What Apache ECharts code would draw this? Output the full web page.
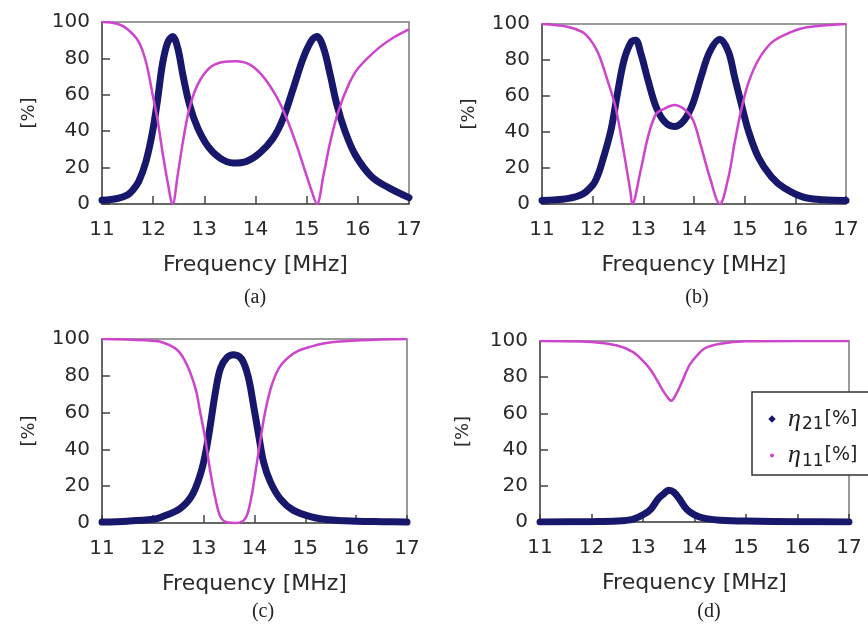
<!DOCTYPE html>
<html>
<head>
<meta charset="utf-8">
<script src="https://cdn.jsdelivr.net/npm/echarts@6/dist/echarts.min.js"></script>
<style>
html,body{margin:0;padding:0;background:#fff;}
#chart{width:868px;height:635px;}
</style>
</head>
<body>
<div id="chart"></div>
<script>
// ---- tick labels ----
const xTicks = [11, 12, 13, 14, 15, 16, 17];
const yTicks = [0, 20, 40, 60, 80, 100];
const panelLabels = ['(a)', '(b)', '(c)', '(d)'];
const seriesNames = ['η21', 'η11'];

// ---- panel (a) ----
const aFreq21 = [11.0, 11.3, 11.5, 11.6, 11.72, 11.86, 11.99, 12.09, 12.18, 12.28, 12.38, 12.48, 12.58, 12.71, 12.87, 13.07, 13.3, 13.56, 13.82, 14.08, 14.34, 14.54, 14.74, 14.93, 15.1, 15.2, 15.33, 15.46, 15.59, 15.75, 15.95, 16.27, 16.6, 17.0];
const aEta21  = [2, 3, 5, 7.5, 12.5, 23.4, 40, 58, 76.6, 88.5, 92, 85.7, 71, 54.6, 41.8, 31.7, 25.3, 22.5, 23.4, 28, 36, 47, 63.7, 80, 90, 92, 85.7, 71, 54.6, 40, 27, 15, 9, 3.5];
const aFreq11 = [11.0, 11.3, 11.5, 11.72, 11.86, 11.99, 12.09, 12.18, 12.28, 12.38, 12.48, 12.58, 12.71, 12.87, 13.1, 13.36, 13.62, 13.89, 14.15, 14.41, 14.61, 14.8, 14.97, 15.1, 15.2, 15.33, 15.46, 15.62, 15.82, 16.01, 16.4, 16.73, 17.0];
const aEta11  = [100, 99, 96, 89, 78, 60, 45.5, 29, 12.5, 0, 16, 34, 52.7, 65.6, 74.7, 78, 78.5, 76.6, 70, 59, 47, 32.6, 18, 7, 0, 16, 34, 51, 65.6, 74.7, 85.5, 92, 96];

// ---- panel (b) ----
const bFreq21 = [11.0, 11.5, 11.8, 12.0, 12.08, 12.16, 12.36, 12.49, 12.62, 12.76, 12.85, 12.95, 13.09, 13.25, 13.42, 13.61, 13.81, 13.98, 14.14, 14.31, 14.51, 14.68, 14.8, 14.93, 15.07, 15.27, 15.53, 15.79, 16.2, 17.0];
const bEta21  = [2, 3, 5.5, 10.5, 14.5, 20.7, 41, 61.5, 80, 90, 91, 83.7, 69, 54, 45.7, 43, 46.7, 56, 70.7, 84.6, 91.5, 84.6, 70.7, 56, 41, 26, 15, 8.7, 3.5, 2];
const bFreq11 = [11.0, 11.5, 11.8, 11.96, 12.07, 12.15, 12.29, 12.45, 12.62, 12.75, 12.78, 12.95, 13.09, 13.25, 13.42, 13.61, 13.81, 13.98, 14.14, 14.31, 14.51, 14.68, 14.8, 14.93, 15.07, 15.27, 15.53, 15.79, 16.2, 17.0];
const bEta11  = [100, 98.5, 95.5, 91, 86, 81, 69, 54, 28, 6, 0, 19, 37, 50, 53, 55, 52.6, 46.7, 32, 15, 0, 15, 33.7, 52, 67, 80, 89.6, 94, 98, 100];

// ---- panel (c) ----
const cFreq21 = [11.0, 11.5, 12.0, 12.15, 12.54, 12.77, 12.93, 13.03, 13.13, 13.23, 13.33, 13.46, 13.59, 13.75, 13.88, 13.98, 14.08, 14.18, 14.31, 14.5, 14.76, 15.12, 15.45, 16.0, 16.5, 17.0];
const cEta21  = [0.5, 1, 2, 3, 8, 15, 26, 37, 53, 71, 84, 90, 91.5, 89, 79, 64, 48, 33, 22.5, 13.4, 7, 3.3, 1.8, 1, 0.7, 0.5];
const cFreq11 = [11.0, 11.85, 12.15, 12.48, 12.67, 12.84, 12.93, 13.03, 13.13, 13.23, 13.33, 13.46, 13.65, 13.82, 13.92, 14.01, 14.11, 14.21, 14.34, 14.5, 14.76, 15.0, 15.45, 16.1, 17.0];
const cEta11  = [100, 99.3, 98.5, 94, 86, 73, 60.5, 46, 28, 13.4, 3.4, 0.4, 0, 2.5, 11.6, 26, 44, 60.5, 75, 85, 92, 95, 98, 99.3, 100];

// ---- panel (d) ----
const dFreq21 = [11.0, 12.0, 12.5, 12.8, 13.0, 13.15, 13.3, 13.4, 13.5, 13.6, 13.7, 13.85, 14.0, 14.2, 14.5, 15.0, 16.0, 17.0];
const dEta21  = [0, 0.2, 0.5, 1.5, 4, 7, 13, 15.5, 17.5, 16.5, 13, 7, 4, 2, 1, 0.5, 0.2, 0];
const dFreq11 = [11.0, 12.0, 12.5, 12.8, 13.0, 13.15, 13.3, 13.4, 13.5, 13.55, 13.65, 13.75, 13.9, 14.05, 14.2, 14.5, 15.0, 16.0, 17.0];
const dEta11  = [100, 99.5, 97.5, 94, 89, 84, 77, 72, 68, 67, 71, 77, 86.5, 92, 96, 98.5, 99.8, 100, 100];

const panels = [
  {f21: aFreq21, e21: aEta21, f11: aFreq11, e11: aEta11},
  {f21: bFreq21, e21: bEta21, f11: bFreq11, e11: bEta11},
  {f21: cFreq21, e21: cEta21, f11: cFreq11, e11: cEta11},
  {f21: dFreq21, e21: dEta21, f11: dFreq11, e11: dEta11}
];

// layout (pixels)
const grids = [
  {left: 102, top: 22, width: 307, height: 182},
  {left: 542, top: 24, width: 304, height: 180},
  {left: 102, top: 339, width: 305, height: 184},
  {left: 540, top: 341, width: 309, height: 181}
];
const labelPos = [[255, 298], [697, 298], [263, 612], [709, 612]];

const NAVY = '#17176c';
const MAG = '#cc45cc';
const TXT = '#2a2a2a';
const sansFont = 'DejaVu Sans';

const pairs = (xs, ys) => xs.map((x, i) => [x, ys[i]]);

const option = {
  animation: false,
  backgroundColor: '#ffffff',
  grid: grids.map(g => Object.assign({show: true, borderColor: '#7a7a7a', borderWidth: 1.5, backgroundColor: 'transparent'}, g)),
  xAxis: grids.map((g, i) => ({
    type: 'value', gridIndex: i,
    min: xTicks[0], max: xTicks[xTicks.length - 1], interval: xTicks[1] - xTicks[0],
    name: 'Frequency [MHz]', nameLocation: 'middle', nameGap: 50,
    nameTextStyle: {fontFamily: sansFont, fontSize: 22, color: TXT},
    axisLine: {show: true, onZero: false, lineStyle: {color: '#555', width: 1.5}},
    axisTick: {show: true, inside: true, length: 8, lineStyle: {color: '#444', width: 1.5}},
    axisLabel: {fontFamily: sansFont, fontSize: 20, color: TXT, margin: 16},
    splitLine: {show: false}
  })),
  yAxis: grids.map((g, i) => ({
    type: 'value', gridIndex: i,
    min: yTicks[0], max: yTicks[yTicks.length - 1], interval: yTicks[1] - yTicks[0],
    name: '[%]', nameLocation: 'middle', nameGap: i === 3 ? 68 : 64, nameRotate: 90,
    nameTextStyle: {fontFamily: sansFont, fontSize: 18, color: TXT},
    axisLine: {show: true, onZero: false, lineStyle: {color: '#555', width: 1.5}},
    axisTick: {show: true, inside: true, length: 8, lineStyle: {color: '#444', width: 1.5}},
    axisLabel: {fontFamily: sansFont, fontSize: 20, color: TXT, margin: 12},
    splitLine: {show: false}
  })),
  legend: {
    orient: 'vertical',
    left: 752, top: 392,
    padding: [14, 70, 5, 15],
    itemGap: 9,
    itemWidth: 16, itemHeight: 10,
    backgroundColor: '#ffffff',
    borderColor: '#333', borderWidth: 1.5, borderRadius: 0,
    data: [
      {name: seriesNames[0], icon: 'path://M0 0M16 10M5 1.3L8.7 5L5 8.7L1.3 5Z', itemStyle: {color: NAVY}},
      {name: seriesNames[1], icon: 'path://M0 0M16 10M5 3A2 2 0 1 1 5 7A2 2 0 1 1 5 3Z', itemStyle: {color: MAG}}
    ],
    formatter: function (name) {
      return '{e|η}{s|' + name.slice(1) + '}{b|[%]}';
    },
    textStyle: {
      color: '#222',
      rich: {
        e: {fontFamily: 'Liberation Serif', fontStyle: 'italic', fontSize: 26, color: '#222'},
        s: {fontFamily: sansFont, fontSize: 17, color: '#222', verticalAlign: 'bottom', padding: [12, 1, 0, 1]},
        b: {fontFamily: sansFont, fontSize: 19, color: '#222'}
      }
    }
  },
  graphic: panelLabels.map((t, i) => ({
    type: 'text', x: labelPos[i][0], y: labelPos[i][1],
    style: {text: t, fontFamily: 'Liberation Serif', fontSize: 20, fill: '#222', textAlign: 'center', textVerticalAlign: 'middle'}
  })),
  series: []
};

panels.forEach((p, i) => {
  option.series.push({
    name: seriesNames[0], type: 'line', xAxisIndex: i, yAxisIndex: i,
    data: pairs(p.f21, p.e21), showSymbol: false, symbol: 'diamond', smooth: 0.35,
    lineStyle: {color: NAVY, width: 7, cap: 'round', join: 'round'}, itemStyle: {color: NAVY}, z: 2
  });
});
panels.forEach((p, i) => {
  option.series.push({
    name: seriesNames[1], type: 'line', xAxisIndex: i, yAxisIndex: i,
    data: pairs(p.f11, p.e11), showSymbol: false, symbol: 'circle', smooth: 0.35,
    lineStyle: {color: MAG, width: 2.5}, itemStyle: {color: MAG}, z: 3
  });
});

const chart = echarts.init(document.getElementById('chart'), null, {renderer: 'canvas'});
chart.setOption(option);
</script>
</body>
</html>
